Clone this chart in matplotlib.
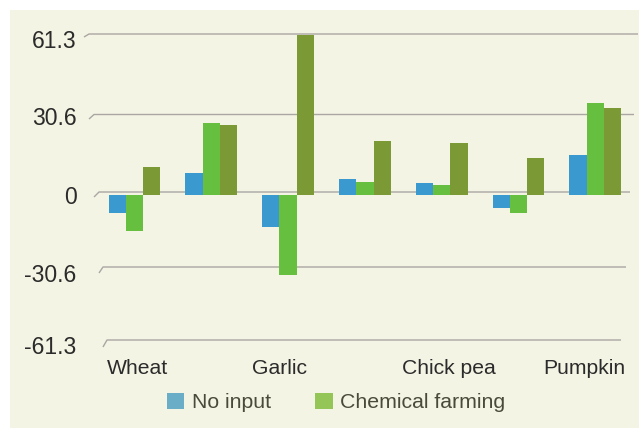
import matplotlib
matplotlib.use("Agg")
import matplotlib.pyplot as plt
from matplotlib.patches import Patch, Rectangle
from matplotlib.transforms import ScaledTranslation
import numpy as np

plt.rcParams['font.family'] = ['Liberation Sans', 'DejaVu Sans']

# ---- data ----
groups = ["Wheat", "", "Garlic", "", "Chick pea", "", "Pumpkin"]
no_input = [-7.4, 8.7, -13.0, 6.2, 4.7, -5.4, 15.8]
chemical = [-14.6, 28.5, -32.2, 5.1, 3.8, -7.3, 36.5]
third = [11.0, 28.0, 64.0, 21.5, 20.7, 14.7, 34.7]
y_ticks = [-61.3, -30.6, 0, 30.6, 61.3]
y_labels = ["-61.3", "-30.6", "0", "30.6", "61.3"]

# ---- layout / style ----
W, H = 639, 428
PANEL = "#F4F4E4"
C_BLUE, C_GREEN, C_OLIVE = "#3A9AD0", "#66BF3E", "#7B9A36"
C_GRID = "#A9A6A3"
AX_L, AX_R, AX_T, AX_B = 85, 639, 30, 352
X0, DX, BAR_W = 134.5, 76.8, 17.3
Y0, PX_PER_UNIT = 194.5, 2.5
# receding (3D-look) gridlines: front stub start, back-left, back-right in pixels
GRID_PX = [(103, 347, 107, 340, 621), (99, 273, 103, 267, 626), (94, 197, 99, 192, 630),
           (89, 119, 94, 114.5, 634), (84, 37, 89, 34, 638)]
LABEL_SHIFT = [3, 0, -9, 0, 7, 0, -11]
YLABEL_SHIFT = [2.5, -2, 0, 2, 2.5]  # px upward, follows the receding axis

fig = plt.figure(figsize=(W / 100, H / 100), dpi=100, facecolor="white")

bg = fig.add_axes([0, 0, 1, 1], zorder=0)
bg.set_xlim(0, W)
bg.set_ylim(H, 0)
bg.axis("off")
bg.add_patch(Rectangle((10, 10), W - 10, H - 10, fc=PANEL, ec="none"))
for x0, y0, x1, y1, x2 in GRID_PX:
    bg.plot([x0, x1, x2], [y0, y1, y1], color=C_GRID, lw=1.0, solid_capstyle="butt")

ax = fig.add_axes([AX_L / W, 1 - AX_B / H, (AX_R - AX_L) / W, (AX_B - AX_T) / H], zorder=1)
ax.patch.set_alpha(0)
ax.set_xlim((AX_L - X0) / DX, (AX_R - X0) / DX)
ax.set_ylim((Y0 - AX_B) / PX_PER_UNIT, (Y0 - AX_T) / PX_PER_UNIT)
for s in ax.spines.values():
    s.set_visible(False)

x = np.arange(len(groups))
w = BAR_W / DX
ax.bar(x - w, no_input, w, color=C_BLUE)
ax.bar(x, chemical, w, color=C_GREEN)
ax.bar(x + w, third, w, color=C_OLIVE)

ax.set_yticks(y_ticks)
ax.set_yticklabels(y_labels, fontsize=16.6, color="#2b2b2b")
ax.tick_params(axis="y", length=0, pad=6)
ax.set_xticks([])
for lab, dy in zip(ax.get_yticklabels(), YLABEL_SHIFT):
    lab.set_transform(lab.get_transform() + ScaledTranslation(0, dy / 100, fig.dpi_scale_trans))

for i, (name, shift) in enumerate(zip(groups, LABEL_SHIFT)):
    if name:
        ax.annotate(name, xy=(i, 0), xycoords=ax.get_xaxis_transform(),
                    xytext=(shift * 0.72, -16 * 0.72), textcoords="offset points",
                    ha="center", va="center", fontsize=15.2, color="#2b2b2b",
                    annotation_clip=False)

handles = [Patch(fc="#6AADC6", ec="none", label="No input"),
           Patch(fc="#94C557", ec="none", label="Chemical farming")]
fig.legend(handles=handles, loc="center", bbox_to_anchor=(336 / W, 1 - 402.5 / H), ncol=2,
           frameon=False, fontsize=15.3, labelcolor="#4A4A3A", borderpad=0, borderaxespad=0,
           handlelength=0.82, handleheight=0.82, handletextpad=0.34, columnspacing=2.1)

fig.savefig("out.png", dpi=100, facecolor="white")
